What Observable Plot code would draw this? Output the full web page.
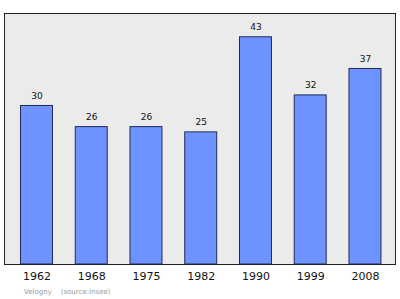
<!DOCTYPE html>
<html>
<head>
<meta charset="utf-8">
<script src="https://cdn.jsdelivr.net/npm/d3@7"></script>
<script src="https://cdn.jsdelivr.net/npm/@observablehq/plot@0.6"></script>
<style>
  body { margin: 0; background: #fff; font-family: "DejaVu Sans", sans-serif; }
  #caption { font-size: 7px; color: #9a9a9a; margin: 0 0 0 24px; line-height: 12px; white-space: pre; }
</style>
</head>
<body>
<div id="chart"></div>
<div id="caption">Velogny    (source:Insee)</div>
<script>
// Population by census year
const years = ["1962", "1968", "1975", "1982", "1990", "1999", "2008"];
const population = [30, 26, 26, 25, 43, 32, 37];

const data = years.map((year, i) => ({year, value: population[i]}));

const chart = Plot.plot({
  width: 400,
  height: 286,
  marginTop: 13,
  marginBottom: 22,
  marginLeft: 4,
  marginRight: 5,
  style: {fontFamily: "DejaVu Sans, sans-serif", background: "#fff"},
  x: {domain: years, paddingInner: 0.416, paddingOuter: 0.279, align: 0.54, round: false, label: null},
  y: {domain: [0, 47.5], axis: null},
  marks: [
    Plot.frame({fill: "#ebebeb", stroke: null}),
    Plot.barY(data, {x: "year", y: "value", fill: "#6e93ff", stroke: "#1f2b55", strokeWidth: 1}),
    Plot.text(data, {x: "year", y: "value", text: d => String(d.value), dy: -10, fontSize: 9, fill: "#111"}),
    Plot.frame({stroke: "#222", strokeWidth: 1}),
    Plot.axisX({tickSize: 0, tickPadding: 8, fontSize: 11, fill: "#111"})
  ]
});
document.getElementById("chart").appendChild(chart);
</script>
</body>
</html>
